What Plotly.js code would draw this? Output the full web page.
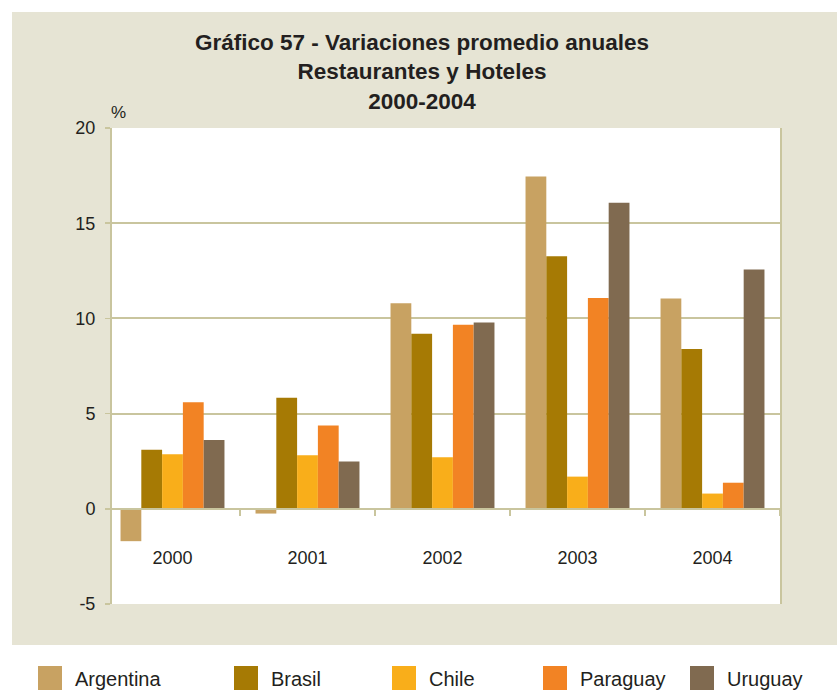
<!DOCTYPE html>
<html>
<head>
<meta charset="utf-8">
<script src="https://cdn.plot.ly/plotly-3.0.1.min.js"></script>
<style>html,body{margin:0;padding:0;background:#fff;}#chart{width:837px;height:690px;}</style>
</head>
<body>
<div id="chart"></div>
<script>
// ---- data ----
var years = ['2000', '2001', '2002', '2003', '2004'];
var argentina = [-1.7, -0.25, 10.8, 17.45, 11.05];
var brasil    = [3.1, 5.83, 9.19, 13.26, 8.39];
var chile     = [2.87, 2.81, 2.71, 1.69, 0.8];
var paraguay  = [5.6, 4.37, 9.67, 11.07, 1.37];
var uruguay   = [3.62, 2.49, 9.78, 16.07, 12.57];
var seriesNames = ['Argentina', 'Brasil', 'Chile', 'Paraguay', 'Uruguay'];
var yTicks = [-5, 0, 5, 10, 15, 20];

// ---- styling ----
var colors = ['#c8a262', '#a67a04', '#f9ae1a', '#f28324', '#806a50'];
var seriesValues = [argentina, brasil, chile, paraguay, uruguay];
var legendIds = ['legend', 'legend2', 'legend3', 'legend4', 'legend5'];
var legendLeftPx = [35, 231, 389, 540, 687];
var FONT = 'Arial, "Liberation Sans", Helvetica, sans-serif';
var TXT = '#231f20';
var GRID = '#c9c59e';

var W = 837, H = 690, L = 112, R = 57, T = 128, B = 86;
var pw = W - L - R, ph = H - T - B;
function px2x(p) { return (p - L) / pw; }
function px2y(p) { return (H - B - p) / ph; }

var traces = seriesNames.map(function (n, i) {
  return {
    type: 'bar', name: n, x: years, y: seriesValues[i],
    marker: { color: colors[i] }, legend: legendIds[i], hoverinfo: 'x+y+name'
  };
});

var layout = {
  width: W, height: H,
  margin: { l: L, r: R, t: T, b: B, autoexpand: false },
  paper_bgcolor: '#ffffff',
  plot_bgcolor: 'rgba(0,0,0,0)',
  font: { family: FONT, color: TXT, size: 18 },
  barmode: 'group', bargap: 0.23, bargroupgap: 0,
  title: {
    text: 'Gráfico 57 - Variaciones promedio anuales<br>Restaurantes y Hoteles<br>2000-2004',
    font: { family: FONT, size: 22.5, color: TXT, weight: 700 },
    xref: 'container', yref: 'container', x: 422 / W, xanchor: 'center',
    y: 1 - 50 / H, yanchor: 'top'
  },
  xaxis: {
    type: 'category', range: [4.5 - pw / 135, 4.5],
    anchor: 'free', position: 0.2,
    showline: true, linecolor: GRID, linewidth: 2,
    ticks: 'outside', tickson: 'boundaries', ticklen: 6, tickcolor: GRID, tickwidth: 1.5,
    ticklabelstandoff: 33,
    tickfont: { size: 18, color: TXT },
    showgrid: false, zeroline: false, fixedrange: true
  },
  yaxis: {
    range: [-5, 20], tickvals: yTicks, ticktext: yTicks.map(String),
    ticks: 'outside', ticklen: 5, tickcolor: GRID, tickwidth: 1.5,
    showline: true, linecolor: GRID, linewidth: 2, mirror: true,
    showgrid: true, gridcolor: GRID, gridwidth: 2,
    zeroline: false, tickfont: { size: 18, color: TXT }, ticklabelstandoff: 6,
    fixedrange: true
  },
  shapes: [
    { type: 'rect', layer: 'below', xref: 'paper', yref: 'paper',
      x0: px2x(12), x1: px2x(837), y0: px2y(645), y1: px2y(12),
      fillcolor: '#e6e4d4', line: { width: 0 } },
    { type: 'rect', layer: 'below', xref: 'paper', yref: 'paper',
      x0: 0, x1: 1, y0: 0, y1: 1, fillcolor: '#ffffff', line: { width: 0 } }
  ],
  annotations: [
    { text: '%', xref: 'paper', yref: 'paper', x: px2x(109), y: px2y(113),
      xanchor: 'left', yanchor: 'middle', showarrow: false,
      font: { size: 17, color: TXT } }
  ],
  showlegend: true
};

legendIds.forEach(function (id, i) {
  layout[id] = {
    x: px2x(legendLeftPx[i]), xanchor: 'left', xref: 'paper',
    y: px2y(678), yanchor: 'middle', yref: 'paper',
    orientation: 'h', bgcolor: 'rgba(0,0,0,0)', borderwidth: 0,
    font: { size: 20, color: TXT, family: FONT }
  };
});

Plotly.newPlot('chart', traces, layout, { displayModeBar: false, staticPlot: true }).then(function (gd) {
  var pts = gd.querySelectorAll('.legendpoints path');
  pts.forEach(function (p) { p.setAttribute('d', 'M7,12H-17V-12H7Z'); });
});
</script>
</body>
</html>
